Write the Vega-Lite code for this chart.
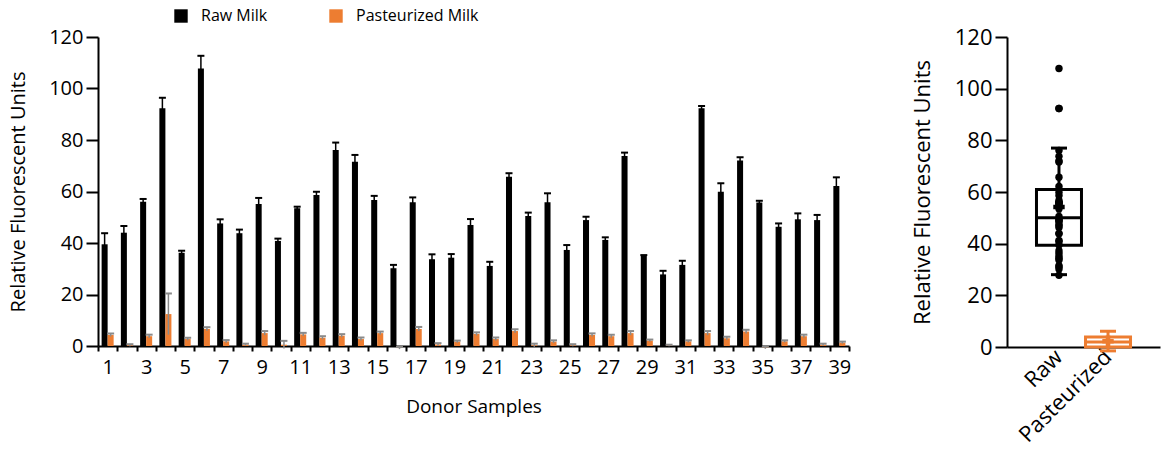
{
  "$schema": "https://vega.github.io/schema/vega-lite/v6.json",
  "padding": {"left": 8, "top": 8, "right": 5, "bottom": 5},
  "background": "white",
  "config": {
    "font": "Open Sans",
    "view": {"stroke": null},
    "axis": {
      "grid": false, "domainColor": "#000", "domainWidth": 2, "tickColor": "#000", "tickWidth": 2,
      "labelColor": "#000", "titleColor": "#000", "titleFontWeight": "normal"
    },
    "legend": {"labelColor": "#000"}
  },
  "datasets": {
    "bars": [
      {"donor":1,"type":"Raw Milk","value":39.5,"lo":35.2,"hi":43.8},
      {"donor":2,"type":"Raw Milk","value":44.0,"lo":41.4,"hi":46.6},
      {"donor":3,"type":"Raw Milk","value":56.0,"lo":54.9,"hi":57.1},
      {"donor":4,"type":"Raw Milk","value":92.3,"lo":88.2,"hi":96.4},
      {"donor":5,"type":"Raw Milk","value":36.2,"lo":35.4,"hi":37.0},
      {"donor":6,"type":"Raw Milk","value":107.8,"lo":102.9,"hi":112.7},
      {"donor":7,"type":"Raw Milk","value":47.6,"lo":46.0,"hi":49.2},
      {"donor":8,"type":"Raw Milk","value":43.8,"lo":42.4,"hi":45.2},
      {"donor":9,"type":"Raw Milk","value":55.1,"lo":52.7,"hi":57.5},
      {"donor":10,"type":"Raw Milk","value":40.8,"lo":39.9,"hi":41.7},
      {"donor":11,"type":"Raw Milk","value":53.5,"lo":52.9,"hi":54.1},
      {"donor":12,"type":"Raw Milk","value":58.6,"lo":57.3,"hi":59.9},
      {"donor":13,"type":"Raw Milk","value":76.1,"lo":73.2,"hi":79.0},
      {"donor":14,"type":"Raw Milk","value":71.6,"lo":69.0,"hi":74.2},
      {"donor":15,"type":"Raw Milk","value":56.7,"lo":55.1,"hi":58.3},
      {"donor":16,"type":"Raw Milk","value":30.2,"lo":28.9,"hi":31.5},
      {"donor":17,"type":"Raw Milk","value":55.8,"lo":53.9,"hi":57.7},
      {"donor":18,"type":"Raw Milk","value":33.7,"lo":31.8,"hi":35.6},
      {"donor":19,"type":"Raw Milk","value":34.3,"lo":32.9,"hi":35.7},
      {"donor":20,"type":"Raw Milk","value":47.0,"lo":44.7,"hi":49.3},
      {"donor":21,"type":"Raw Milk","value":31.1,"lo":29.5,"hi":32.7},
      {"donor":22,"type":"Raw Milk","value":65.7,"lo":64.3,"hi":67.1},
      {"donor":23,"type":"Raw Milk","value":50.5,"lo":49.2,"hi":51.8},
      {"donor":24,"type":"Raw Milk","value":55.8,"lo":52.3,"hi":59.3},
      {"donor":25,"type":"Raw Milk","value":37.3,"lo":35.4,"hi":39.2},
      {"donor":26,"type":"Raw Milk","value":48.9,"lo":47.6,"hi":50.2},
      {"donor":27,"type":"Raw Milk","value":41.2,"lo":40.2,"hi":42.2},
      {"donor":28,"type":"Raw Milk","value":73.8,"lo":72.5,"hi":75.1},
      {"donor":29,"type":"Raw Milk","value":35.0,"lo":34.7,"hi":35.3},
      {"donor":30,"type":"Raw Milk","value":27.8,"lo":26.4,"hi":29.2},
      {"donor":31,"type":"Raw Milk","value":31.5,"lo":29.9,"hi":33.1},
      {"donor":32,"type":"Raw Milk","value":92.3,"lo":91.4,"hi":93.2},
      {"donor":33,"type":"Raw Milk","value":59.9,"lo":56.6,"hi":63.2},
      {"donor":34,"type":"Raw Milk","value":72.0,"lo":70.7,"hi":73.3},
      {"donor":35,"type":"Raw Milk","value":55.7,"lo":55.0,"hi":56.4},
      {"donor":36,"type":"Raw Milk","value":46.3,"lo":45.0,"hi":47.6},
      {"donor":37,"type":"Raw Milk","value":49.2,"lo":46.9,"hi":51.5},
      {"donor":38,"type":"Raw Milk","value":48.9,"lo":46.9,"hi":50.9},
      {"donor":39,"type":"Raw Milk","value":62.1,"lo":58.7,"hi":65.5},
      {"donor":1,"type":"Pasteurized Milk","value":4.3,"lo":3.7,"hi":4.9},
      {"donor":2,"type":"Pasteurized Milk","value":0.3,"lo":-0.1,"hi":0.7},
      {"donor":3,"type":"Pasteurized Milk","value":3.8,"lo":3.2,"hi":4.4},
      {"donor":4,"type":"Pasteurized Milk","value":12.4,"lo":4.4,"hi":20.4},
      {"donor":5,"type":"Pasteurized Milk","value":2.7,"lo":2.2,"hi":3.2},
      {"donor":6,"type":"Pasteurized Milk","value":6.6,"lo":5.9,"hi":7.3},
      {"donor":7,"type":"Pasteurized Milk","value":1.8,"lo":1.3,"hi":2.3},
      {"donor":8,"type":"Pasteurized Milk","value":0.5,"lo":0.1,"hi":0.9},
      {"donor":9,"type":"Pasteurized Milk","value":5.0,"lo":4.2,"hi":5.8},
      {"donor":10,"type":"Pasteurized Milk","value":0.5,"lo":-1.0,"hi":2.0},
      {"donor":11,"type":"Pasteurized Milk","value":4.5,"lo":3.9,"hi":5.1},
      {"donor":12,"type":"Pasteurized Milk","value":3.2,"lo":2.6,"hi":3.8},
      {"donor":13,"type":"Pasteurized Milk","value":4.0,"lo":3.4,"hi":4.6},
      {"donor":14,"type":"Pasteurized Milk","value":2.7,"lo":2.1,"hi":3.3},
      {"donor":15,"type":"Pasteurized Milk","value":5.0,"lo":4.4,"hi":5.6},
      {"donor":16,"type":"Pasteurized Milk","value":-0.8,"lo":-1.2,"hi":-0.4},
      {"donor":17,"type":"Pasteurized Milk","value":6.6,"lo":5.8,"hi":7.4},
      {"donor":18,"type":"Pasteurized Milk","value":0.6,"lo":0.1,"hi":1.1},
      {"donor":19,"type":"Pasteurized Milk","value":1.7,"lo":1.3,"hi":2.1},
      {"donor":20,"type":"Pasteurized Milk","value":4.7,"lo":4.1,"hi":5.3},
      {"donor":21,"type":"Pasteurized Milk","value":2.7,"lo":2.1,"hi":3.3},
      {"donor":22,"type":"Pasteurized Milk","value":5.8,"lo":5.1,"hi":6.5},
      {"donor":23,"type":"Pasteurized Milk","value":0.3,"lo":-0.3,"hi":0.9},
      {"donor":24,"type":"Pasteurized Milk","value":1.7,"lo":1.2,"hi":2.2},
      {"donor":25,"type":"Pasteurized Milk","value":0.3,"lo":-0.1,"hi":0.7},
      {"donor":26,"type":"Pasteurized Milk","value":4.3,"lo":3.7,"hi":4.9},
      {"donor":27,"type":"Pasteurized Milk","value":3.8,"lo":3.2,"hi":4.4},
      {"donor":28,"type":"Pasteurized Milk","value":5.0,"lo":4.2,"hi":5.8},
      {"donor":29,"type":"Pasteurized Milk","value":2.1,"lo":1.7,"hi":2.5},
      {"donor":30,"type":"Pasteurized Milk","value":0.2,"lo":-0.1,"hi":0.5},
      {"donor":31,"type":"Pasteurized Milk","value":1.8,"lo":1.4,"hi":2.2},
      {"donor":32,"type":"Pasteurized Milk","value":5.0,"lo":4.2,"hi":5.8},
      {"donor":33,"type":"Pasteurized Milk","value":3.0,"lo":2.4,"hi":3.6},
      {"donor":34,"type":"Pasteurized Milk","value":5.6,"lo":4.9,"hi":6.3},
      {"donor":35,"type":"Pasteurized Milk","value":-0.7,"lo":-1.1,"hi":-0.3},
      {"donor":36,"type":"Pasteurized Milk","value":1.8,"lo":1.4,"hi":2.2},
      {"donor":37,"type":"Pasteurized Milk","value":3.8,"lo":3.2,"hi":4.4},
      {"donor":38,"type":"Pasteurized Milk","value":0.5,"lo":0.1,"hi":0.9},
      {"donor":39,"type":"Pasteurized Milk","value":1.3,"lo":0.9,"hi":1.7}
    ],
    "box": [
      {"group":"Raw","lower":28,"q1":39.4,"median":50,"q3":61,"upper":77,"mean":54.2},
      {"group":"Pasteurized","lower":-1.5,"q1":0,"median":1.9,"q3":3.9,"upper":6.1,"mean":2.2}
    ]
  },
  "hconcat": [
    {
      "width": 751,
      "height": 309,
      "data": {"name": "bars"},
      "encoding": {
        "x": {
          "field": "donor", "type": "ordinal",
          "scale": {"paddingInner": 0, "paddingOuter": 0},
          "title": "Donor Samples",
          "axis": {
            "labelAngle": 0, "labelFontSize": 20, "titleFontSize": 19, "tickBand": "extent",
            "tickSize": 5, "labelPadding": 6, "titlePadding": 20,
            "labelExpr": "datum.value % 2 === 1 ? datum.label : ''"
          }
        },
        "xOffset": {
          "field": "type", "type": "nominal",
          "scale": {"domain": ["Raw Milk", "Pasteurized Milk"], "paddingInner": 0, "paddingOuter": 0.6}
        }
      },
      "layer": [
        {
          "mark": {"type": "bar"},
          "encoding": {
            "y": {
              "field": "value", "type": "quantitative",
              "scale": {"domain": [0, 120], "nice": false},
              "title": "Relative Fluorescent Units",
              "axis": {"values": [0, 20, 40, 60, 80, 100, 120], "labelFontSize": 20, "titleFontSize": 20, "tickSize": 12, "labelPadding": 3, "titlePadding": 20}
            },
            "color": {
              "field": "type", "type": "nominal",
              "scale": {"domain": ["Raw Milk", "Pasteurized Milk"], "range": ["#000000", "#ED7D31"]},
              "legend": {
                "title": null, "orient": "none", "direction": "horizontal", "legendX": 75, "legendY": -29,
                "symbolType": "square", "symbolSize": 180, "symbolStrokeWidth": 0,
                "labelFontSize": 16, "labelOffset": 12, "columnPadding": 60
              }
            }
          }
        },
        {
          "mark": {"type": "rule", "strokeWidth": 1.5, "opacity": 1},
          "encoding": {
            "y": {"field": "lo", "type": "quantitative"},
            "y2": {"field": "hi"},
            "color": {"condition": {"test": "datum.type === 'Raw Milk'", "value": "#000000"}, "value": "#8a8a8a"}
          }
        },
        {
          "mark": {"type": "tick", "thickness": 2, "size": 7, "opacity": 1},
          "encoding": {
            "y": {"field": "hi", "type": "quantitative"},
            "color": {"condition": {"test": "datum.type === 'Raw Milk'", "value": "#000000"}, "value": "#8a8a8a"}
          }
        }
      ]
    },
    {
      "width": 153,
      "height": 310,
      "encoding": {
        "x": {
          "field": "group", "type": "nominal",
          "scale": {"domain": ["Raw", "Pasteurized"], "paddingInner": 0, "paddingOuter": 0.56},
          "title": null,
          "axis": {"labelAngle": -45, "labelFontSize": 22, "ticks": false, "labelPadding": 6, "labelAlign": "right", "labelBaseline": "middle"}
        }
      },
      "layer": [
        {
          "data": {"name": "box"},
          "mark": {"type": "rule", "strokeWidth": 3, "opacity": 1},
          "encoding": {
            "y": {
              "field": "lower", "type": "quantitative",
              "scale": {"domain": [0, 120], "nice": false},
              "title": "Relative Fluorescent Units",
              "axis": {"values": [0, 20, 40, 60, 80, 100, 120], "labelFontSize": 22, "titleFontSize": 22, "tickSize": 12, "labelPadding": 3, "titlePadding": 20}
            },
            "y2": {"field": "upper"},
            "color": {"condition": {"test": "datum.group === 'Raw'", "value": "#000000"}, "value": "#ED7D31"}
          }
        },
        {
          "data": {"name": "box"},
          "mark": {"type": "bar", "size": 45, "fill": "white", "strokeWidth": 3, "opacity": 1},
          "encoding": {
            "y": {"field": "q1", "type": "quantitative"},
            "y2": {"field": "q3"},
            "stroke": {"condition": {"test": "datum.group === 'Raw'", "value": "#000000"}, "value": "#ED7D31"}
          }
        },
        {
          "data": {"name": "box"},
          "mark": {"type": "tick", "size": 45, "thickness": 3, "opacity": 1},
          "encoding": {
            "y": {"field": "median", "type": "quantitative"},
            "color": {"condition": {"test": "datum.group === 'Raw'", "value": "#000000"}, "value": "#ED7D31"}
          }
        },
        {
          "data": {"name": "box"},
          "mark": {"type": "tick", "size": 16, "thickness": 3, "opacity": 1},
          "encoding": {
            "y": {"field": "lower", "type": "quantitative"},
            "color": {"condition": {"test": "datum.group === 'Raw'", "value": "#000000"}, "value": "#ED7D31"}
          }
        },
        {
          "data": {"name": "box"},
          "mark": {"type": "tick", "size": 16, "thickness": 3, "opacity": 1},
          "encoding": {
            "y": {"field": "upper", "type": "quantitative"},
            "color": {"condition": {"test": "datum.group === 'Raw'", "value": "#000000"}, "value": "#ED7D31"}
          }
        },
        {
          "data": {"name": "bars"},
          "transform": [{"filter": "datum.type === 'Raw Milk'"}],
          "mark": {"type": "point", "filled": true, "size": 55, "color": "#000000", "opacity": 1},
          "encoding": {
            "x": {"datum": "Raw", "type": "nominal"},
            "y": {"field": "value", "type": "quantitative"}
          }
        },
        {
          "data": {"name": "box"},
          "mark": {"type": "point", "shape": "cross", "filled": true, "size": 130, "opacity": 1},
          "encoding": {
            "y": {"field": "mean", "type": "quantitative"},
            "color": {"condition": {"test": "datum.group === 'Raw'", "value": "#000000"}, "value": "#ED7D31"}
          }
        }
      ]
    }
  ],
  "spacing": 60
}
